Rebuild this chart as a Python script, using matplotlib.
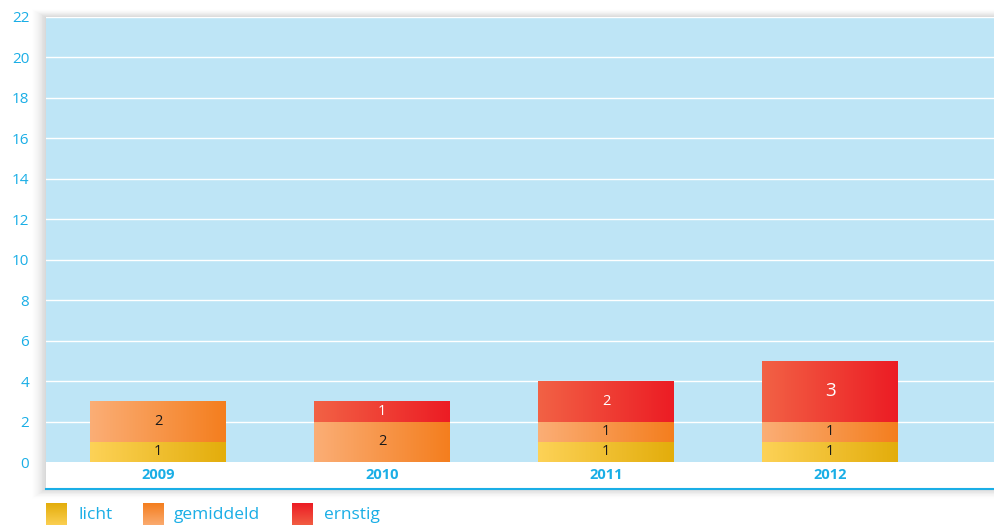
import numpy as np
import matplotlib
matplotlib.use("Agg")
import matplotlib.pyplot as plt
from matplotlib.colors import LinearSegmentedColormap

plt.rcParams['font.family'] = ['Open Sans', 'DejaVu Sans']

years = ['2009', '2010', '2011', '2012']
licht = [1, 0, 1, 1]
gemiddeld = [2, 2, 1, 1]
ernstig = [0, 1, 2, 3]
series_names = ['licht', 'gemiddeld', 'ernstig']
yticks = list(range(0, 23, 2))

grad_colors = {
    'licht': ('#FDD257', '#E3AD0B'),
    'gemiddeld': ('#FBAE76', '#F47E1E'),
    'ernstig': ('#F26245', '#EC1C24'),
}
label_colors = {'licht': '#1a1a1a', 'gemiddeld': '#1a1a1a', 'ernstig': 'white'}
cyan = '#1AAEE6'
bg_blue = '#BEE5F6'

W, H = 994, 525
fig = plt.figure(figsize=(W / 100, H / 100), dpi=100)

# soft shadow behind the box
sh = fig.add_axes([0, 0, 1, 1], zorder=0)
sh.set_xlim(0, W); sh.set_ylim(H, 0); sh.axis('off')
n = 18
for i in range(n):
    a = 0.022 * (1 - i / n)
    sh.add_patch(plt.Rectangle((46 - i * 0.9, 17 - i * 0.5), 948 + i * 2, 472 + i * 1.1,
                               facecolor='#444444', alpha=a, edgecolor='none'))

ax_l, ax_b = 46 / W, 1 - 489 / H
ax_w, ax_h = (994 - 46) / W, (489 - 17) / H
ax = fig.add_axes([ax_l, ax_b, ax_w, ax_h], zorder=1)

ymin, ymax = -1.33, 22
xmin, xmax = -0.5, 3.732
ax.set_facecolor('white')
ax.axhspan(0, 22, color=bg_blue, zorder=0, lw=0)
for t in yticks[1:]:
    ax.axhline(t, color='white', lw=1.0, zorder=1)

x = np.arange(len(years))
bw = 0.607
grad = np.linspace(0, 1, 256).reshape(1, -1)
data = {'licht': licht, 'gemiddeld': gemiddeld, 'ernstig': ernstig}
bottom = np.zeros(len(years))
for name in series_names:
    vals = np.array(data[name], dtype=float)
    cmap = LinearSegmentedColormap.from_list(name, grad_colors[name])
    for i, v in enumerate(vals):
        if v <= 0:
            continue
        y0, y1 = bottom[i], bottom[i] + v
        ax.imshow(grad, extent=[x[i] - bw / 2, x[i] + bw / 2, y0, y1], aspect='auto',
                  cmap=cmap, interpolation='bilinear', zorder=2)
        fs = 13.5 if v >= 3 else 10.5
        ax.text(x[i], (y0 + y1) / 2, f'{int(v)}', ha='center', va='center',
                color=label_colors[name], fontsize=fs, fontweight='medium', zorder=3)
    bottom += vals

for i, yr in enumerate(years):
    ax.text(x[i], -0.62, yr, ha='center', va='center', color=cyan, fontsize=10.5,
            fontweight='bold', zorder=3)

ax.set_xlim(xmin, xmax)
ax.set_ylim(ymin, ymax)
ax.set_xticks([])
ax.set_yticks(yticks)
ax.set_yticklabels([str(t) for t in yticks], color=cyan, fontsize=11, fontweight='medium')
ax.tick_params(axis='y', length=0, pad=12)
for s in ['top', 'right', 'left']:
    ax.spines[s].set_visible(False)
ax.spines['bottom'].set_color(cyan)
ax.spines['bottom'].set_linewidth(1.5)

# legend
lg = fig.add_axes([0, 0, 1, 1], zorder=2)
lg.set_xlim(0, W); lg.set_ylim(H, 0); lg.axis('off')
vgrad = np.linspace(0, 1, 64).reshape(-1, 1)
leg_x = [46, 143, 292]
txt_x = [78, 174, 324]
for name, sx, tx in zip(series_names, leg_x, txt_x):
    cmap = LinearSegmentedColormap.from_list(name + 'v', [grad_colors[name][1], grad_colors[name][0]])
    lg.imshow(vgrad, extent=[sx, sx + 21, 527, 503], aspect='auto', cmap=cmap,
              interpolation='bilinear')
    lg.text(tx, 515, name, ha='left', va='center', color=cyan, fontsize=12.5)
lg.set_xlim(0, W); lg.set_ylim(H, 0)

fig.savefig('out.png', dpi=100)
